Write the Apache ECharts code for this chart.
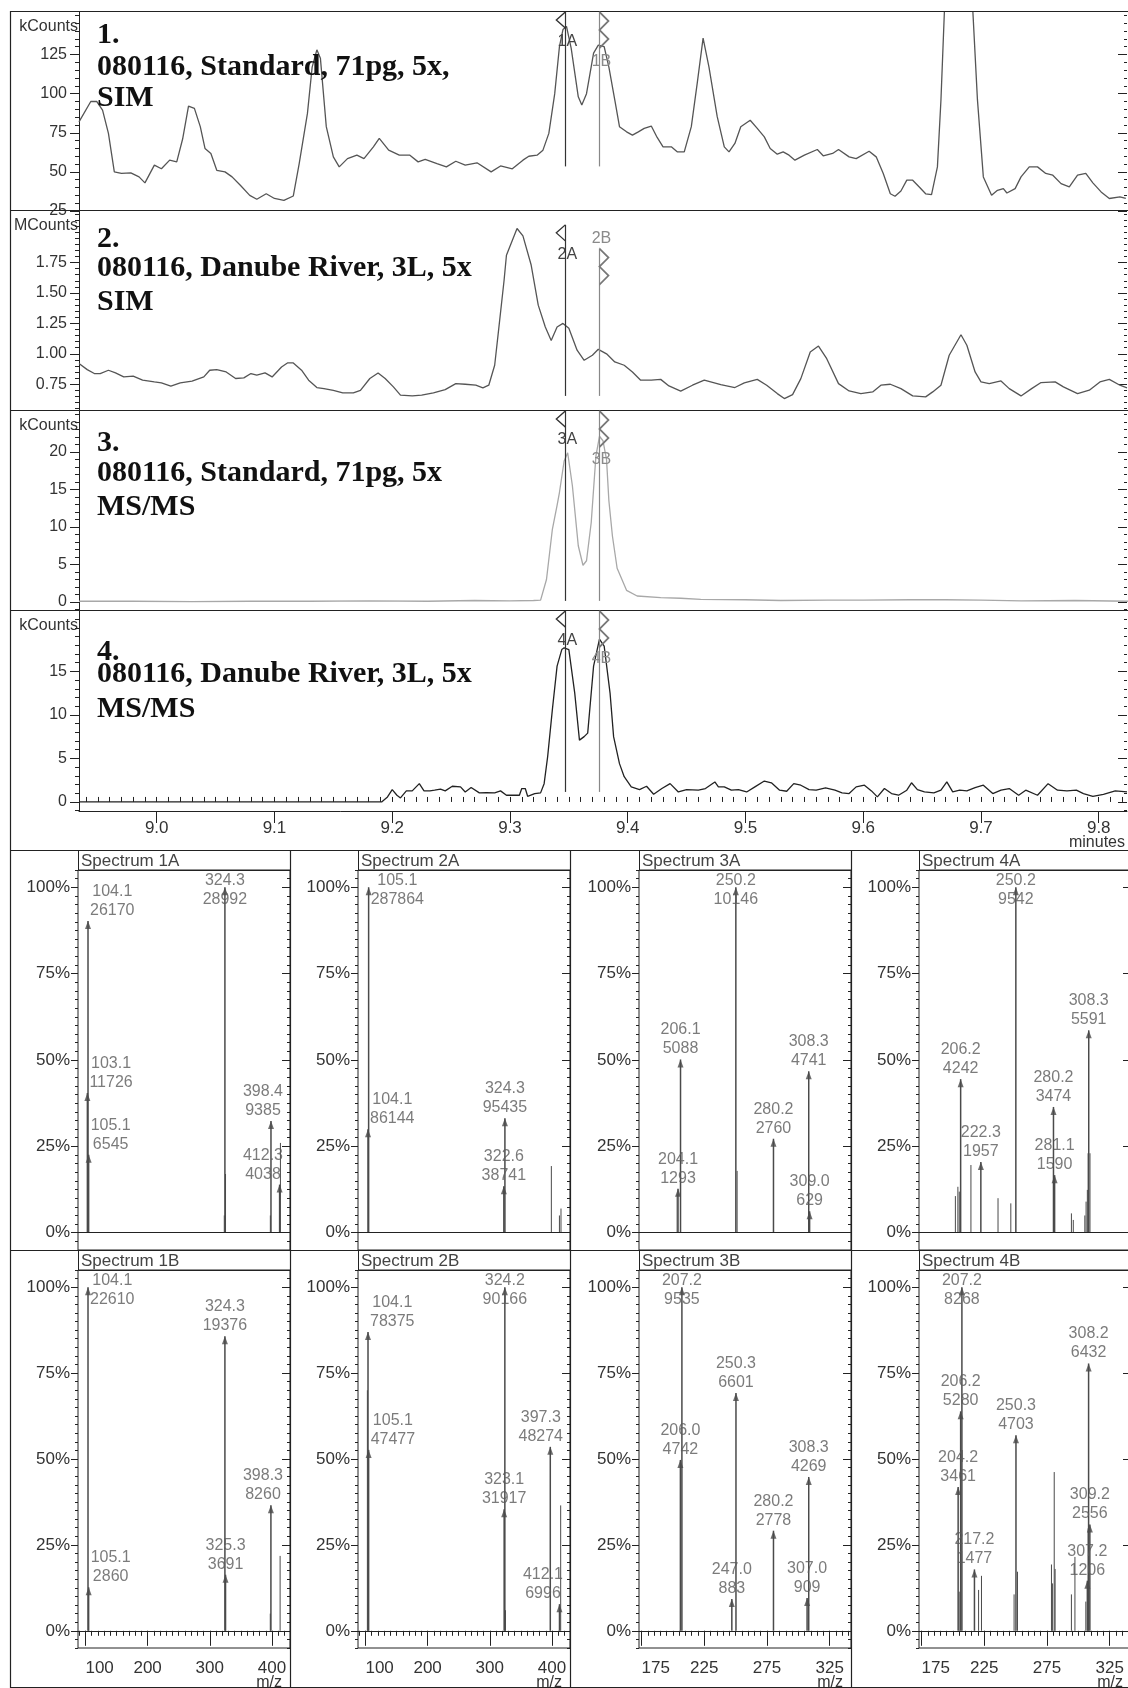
<!DOCTYPE html>
<html>
<head>
<meta charset="utf-8">
<title>Chromatograms and MS/MS spectra</title>
<script src="https://cdn.jsdelivr.net/npm/echarts@6/dist/echarts.min.js"></script>
<style>
  html, body { margin: 0; padding: 0; background: #fff; }
  #chart-container { width: 1128px; height: 1688px; }
</style>
</head>
<body>
<div id="chart-container"></div>
<script>
var dom = document.getElementById("chart-container");
var myChart = echarts.init(dom, null, { renderer: "canvas" });

var SANS = "'Liberation Sans', Arial, Helvetica, sans-serif";
var SERIF = "'Liberation Serif', 'Times New Roman', serif";

// ---- chromatograms: [retention time (min), intensity] ----
var trace1 = [[8.934,82],[8.944,95],[8.949,95],[8.954,89.5],[8.959,74.6],[8.964,50],[8.970,49],[8.978,49.4],[8.985,46.8],[8.990,43],[8.998,54.3],[9.004,52],[9.011,57.5],[9.017,56.4],[9.022,71],[9.027,92],[9.032,90.6],[9.037,78.9],[9.041,65],[9.046,61.8],[9.051,51],[9.058,50],[9.064,46.8],[9.071,41.5],[9.079,35],[9.085,32.5],[9.093,36],[9.100,33],[9.108,31.8],[9.116,34.6],[9.121,55.3],[9.128,87.4],[9.132,117],[9.136,128],[9.139,122.7],[9.144,78.9],[9.150,59.6],[9.155,53.2],[9.162,58.5],[9.170,60.7],[9.176,58.5],[9.184,66],[9.189,71.4],[9.197,63.9],[9.206,60.7],[9.215,60.7],[9.222,56.4],[9.228,58],[9.238,55.3],[9.246,53.2],[9.254,56.8],[9.262,54.3],[9.272,55.8],[9.284,50],[9.292,53.8],[9.302,52],[9.311,57.5],[9.316,60],[9.323,60.7],[9.328,63.9],[9.333,74.6],[9.338,100],[9.342,130],[9.345,141],[9.348,143],[9.352,129],[9.358,98],[9.361,92.7],[9.365,100],[9.371,125.9],[9.375,131],[9.380,130],[9.384,117],[9.389,96],[9.393,78.9],[9.399,75.6],[9.404,73.5],[9.409,75.6],[9.414,77.8],[9.420,79.3],[9.425,72],[9.430,66],[9.437,66],[9.442,62.8],[9.448,62.8],[9.454,78.9],[9.459,106.6],[9.464,135.5],[9.469,117],[9.476,85.3],[9.482,66],[9.486,62.8],[9.491,68.2],[9.496,78.9],[9.504,83],[9.510,77.8],[9.516,72.4],[9.521,65],[9.527,61.3],[9.532,62.8],[9.537,60.7],[9.542,57.5],[9.550,60.7],[9.561,64.3],[9.566,60.3],[9.574,61.8],[9.579,64.3],[9.588,59.6],[9.594,58.5],[9.605,63.2],[9.611,59.6],[9.617,49],[9.623,36],[9.627,34.4],[9.632,37.8],[9.637,44.7],[9.642,44.7],[9.648,40],[9.653,36],[9.658,35.5],[9.663,53.2],[9.666,96],[9.669,154],[9.680,185],[9.693,154],[9.697,96],[9.702,46.8],[9.709,35],[9.714,38.2],[9.719,39.3],[9.722,36.5],[9.729,39.3],[9.734,46.8],[9.741,53.2],[9.748,53.2],[9.755,49],[9.761,47.9],[9.768,42.5],[9.775,40.4],[9.782,47.9],[9.789,49],[9.795,43],[9.802,37.2],[9.809,33],[9.818,34],[9.823,33]];

var trace2 = [[8.934,0.92],[8.941,0.87],[8.947,0.838],[8.952,0.838],[8.959,0.865],[8.965,0.843],[8.972,0.81],[8.980,0.816],[8.988,0.783],[8.998,0.769],[9.004,0.761],[9.012,0.734],[9.020,0.761],[9.030,0.775],[9.040,0.81],[9.045,0.865],[9.051,0.87],[9.059,0.851],[9.067,0.797],[9.074,0.802],[9.080,0.838],[9.085,0.824],[9.092,0.843],[9.098,0.81],[9.106,0.892],[9.111,0.925],[9.116,0.925],[9.123,0.865],[9.129,0.783],[9.136,0.723],[9.142,0.714],[9.150,0.70],[9.158,0.679],[9.167,0.679],[9.173,0.70],[9.181,0.797],[9.188,0.843],[9.194,0.797],[9.201,0.728],[9.207,0.66],[9.217,0.654],[9.225,0.66],[9.235,0.679],[9.245,0.706],[9.254,0.755],[9.262,0.75],[9.271,0.742],[9.277,0.72],[9.282,0.742],[9.287,0.906],[9.290,1.166],[9.295,1.605],[9.297,1.81],[9.306,2.03],[9.311,1.97],[9.318,1.73],[9.324,1.40],[9.330,1.22],[9.335,1.11],[9.340,1.22],[9.345,1.25],[9.350,1.21],[9.357,1.03],[9.363,0.947],[9.370,0.988],[9.375,1.037],[9.382,1.0],[9.389,0.933],[9.397,0.906],[9.404,0.851],[9.411,0.783],[9.420,0.783],[9.428,0.79],[9.435,0.736],[9.445,0.693],[9.455,0.742],[9.465,0.783],[9.479,0.747],[9.491,0.723],[9.499,0.761],[9.510,0.79],[9.518,0.742],[9.527,0.673],[9.533,0.632],[9.540,0.665],[9.547,0.796],[9.555,1.015],[9.562,1.064],[9.569,0.96],[9.579,0.755],[9.588,0.695],[9.598,0.673],[9.608,0.687],[9.615,0.742],[9.623,0.75],[9.632,0.714],[9.642,0.654],[9.653,0.646],[9.659,0.687],[9.666,0.742],[9.673,0.988],[9.683,1.157],[9.688,1.07],[9.695,0.851],[9.700,0.769],[9.707,0.755],[9.717,0.777],[9.724,0.714],[9.734,0.654],[9.743,0.714],[9.751,0.764],[9.763,0.769],[9.770,0.728],[9.782,0.673],[9.792,0.701],[9.801,0.769],[9.809,0.79],[9.818,0.742],[9.824,0.72]];

var trace3 = [[8.934,0.1],[8.98,0.1],[9.03,0.05],[9.08,0.1],[9.13,0.1],[9.18,0.15],[9.23,0.1],[9.27,0.2],[9.30,0.15],[9.32,0.2],[9.326,0.25],[9.331,3.0],[9.336,9.7],[9.340,12.9],[9.342,14.6],[9.346,18.8],[9.349,19.9],[9.353,15.5],[9.358,7.5],[9.362,4.9],[9.365,5.5],[9.369,10.6],[9.373,19.5],[9.376,22.1],[9.379,21.5],[9.382,19],[9.384,13.5],[9.387,8.8],[9.391,4.5],[9.399,1.56],[9.408,0.8],[9.428,0.58],[9.445,0.5],[9.462,0.36],[9.50,0.3],[9.53,0.2],[9.57,0.25],[9.60,0.25],[9.64,0.3],[9.67,0.3],[9.70,0.25],[9.734,0.15],[9.78,0.2],[9.825,0.1]];

var trace4 = [[8.934,0],[9.191,0],[9.196,0.58],[9.200,1.42],[9.204,0.77],[9.207,0.46],[9.212,1.27],[9.217,1.27],[9.223,2.1],[9.227,1.27],[9.232,1.27],[9.236,1.35],[9.241,1.46],[9.245,1.27],[9.251,1.8],[9.258,1.73],[9.262,1.15],[9.267,1.65],[9.274,1.04],[9.280,1.08],[9.287,1.04],[9.292,1.27],[9.297,0.77],[9.308,0.77],[9.310,1.54],[9.313,1.54],[9.315,0.65],[9.321,0.96],[9.326,1.04],[9.329,2.1],[9.332,5.2],[9.336,10.6],[9.340,15.6],[9.344,17.5],[9.346,17.7],[9.350,17.5],[9.355,12.5],[9.359,7.1],[9.363,7.5],[9.366,7.9],[9.371,15.6],[9.376,18.7],[9.380,17.9],[9.385,12.5],[9.388,7.5],[9.393,4.4],[9.397,2.9],[9.403,1.73],[9.410,1.42],[9.416,1.8],[9.422,0.88],[9.429,1.54],[9.436,2.1],[9.443,1.15],[9.450,1.42],[9.460,1.35],[9.466,1.54],[9.474,2.3],[9.477,1.73],[9.482,1.73],[9.488,1.35],[9.494,1.42],[9.501,1.15],[9.508,1.73],[9.516,2.4],[9.522,2.2],[9.529,1.35],[9.535,1.23],[9.541,2.1],[9.547,1.92],[9.554,1.42],[9.560,1.35],[9.568,1.62],[9.576,1.35],[9.582,1.04],[9.588,0.96],[9.594,1.73],[9.601,1.92],[9.607,1.27],[9.612,0.58],[9.618,1.54],[9.624,0.96],[9.630,0.77],[9.637,1.35],[9.641,2.2],[9.646,1.42],[9.652,1.15],[9.660,1.04],[9.666,1.35],[9.671,2.3],[9.676,1.15],[9.682,1.35],[9.688,1.27],[9.695,1.65],[9.702,1.92],[9.710,0.96],[9.717,1.35],[9.724,1.54],[9.732,0.77],[9.738,1.35],[9.748,0.77],[9.757,2.1],[9.765,1.35],[9.773,1.27],[9.781,1.35],[9.787,0.96],[9.795,0.65],[9.804,0.88],[9.814,1.27],[9.824,1.15]];

// spectrum scan times (A and B cursors)
var scanTimes = [9.347, 9.376];

var panelTitles = [
  ["1.", "080116, Standard, 71pg, 5x,", "SIM"],
  ["2.", "080116, Danube River, 3L, 5x", "SIM"],
  ["3.", "080116, Standard, 71pg, 5x", "MS/MS"],
  ["4.", "080116, Danube River, 3L, 5x", "MS/MS"]
];
var panelUnits = ["kCounts", "MCounts", "kCounts", "kCounts"];
var panelTicks = [[25, 50, 75, 100, 125], [0.75, 1.0, 1.25, 1.5, 1.75], [0, 5, 10, 15, 20], [0, 5, 10, 15]];
var timeTicks = [9.0, 9.1, 9.2, 9.3, 9.4, 9.5, 9.6, 9.7, 9.8];

// ---- spectra: labelled peaks (m/z, counts) and small unlabelled peaks (m/z, %) ----
var s1A_mz = [104.1, 103.1, 105.1, 324.3, 398.4, 412.3];
var s1A_counts = [26170, 11726, 6545, 28992, 9385, 4038];
var s1A_minorMz = [323.3, 325.3, 397.4, 413.6];
var s1A_minorPct = [5, 17, 5, 26];

var s2A_mz = [105.1, 104.1, 324.3, 322.6];
var s2A_counts = [287864, 86144, 95435, 38741];
var s2A_minorMz = [399.0, 412.0, 414.5];
var s2A_minorPct = [19.3, 5, 7];

var s3A_mz = [250.2, 206.1, 308.3, 280.2, 204.1, 309.0];
var s3A_counts = [10146, 5088, 4741, 2760, 1293, 629];
var s3A_minorMz = [251.2, 203.4];
var s3A_minorPct = [17.9, 11];

var s4A_mz = [250.2, 308.3, 206.2, 280.2, 222.3, 281.1];
var s4A_counts = [9542, 5591, 4242, 3474, 1957, 1590];
var s4A_minorMz = [202.0, 204.0, 205.1, 214.4, 236.0, 246.2, 294.5, 296.0, 305.2, 306.2, 307.2, 307.8, 309.3];
var s4A_minorPct = [10.6, 13.3, 11.9, 19.6, 10, 8.5, 5.6, 3.7, 5, 9, 12.4, 23, 23];

var s1B_mz = [104.1, 324.3, 398.3, 325.3, 105.1];
var s1B_counts = [22610, 19376, 8260, 3691, 2860];
var s1B_minorMz = [397.3, 413.1];
var s1B_minorPct = [5, 21.8];

var s2B_mz = [324.2, 104.1, 397.3, 105.1, 323.1, 412.1];
var s2B_counts = [90166, 78375, 48274, 47477, 31917, 6996];
var s2B_minorMz = [103.1, 325.2, 414.0];
var s2B_minorPct = [70, 6, 36.5];

var s3B_mz = [207.2, 250.3, 206.0, 308.3, 280.2, 307.0, 247.0];
var s3B_counts = [9535, 6601, 4742, 4269, 2778, 909, 883];
var s3B_minorMz = [];
var s3B_minorPct = [];

var s4B_mz = [207.2, 308.2, 206.2, 250.3, 204.2, 309.2, 217.2, 307.2];
var s4B_counts = [8268, 6432, 5280, 4703, 3461, 2556, 1477, 1206];
var s4B_minorMz = [205.0, 220.5, 222.8, 248.8, 251.5, 278.6, 279.5, 280.8, 281.5, 294.5, 297.3, 306.0, 307.8];
var s4B_minorPct = [11.4, 11.9, 16, 10.6, 17.2, 19.3, 13.8, 46.2, 18, 10.6, 21.5, 8.5, 29.8];

var spectrumNames = ["1A", "2A", "3A", "4A", "1B", "2B", "3B", "4B"];
var spectrumData = [
  [s1A_mz, s1A_counts, s1A_minorMz, s1A_minorPct],
  [s2A_mz, s2A_counts, s2A_minorMz, s2A_minorPct],
  [s3A_mz, s3A_counts, s3A_minorMz, s3A_minorPct],
  [s4A_mz, s4A_counts, s4A_minorMz, s4A_minorPct],
  [s1B_mz, s1B_counts, s1B_minorMz, s1B_minorPct],
  [s2B_mz, s2B_counts, s2B_minorMz, s2B_minorPct],
  [s3B_mz, s3B_counts, s3B_minorMz, s3B_minorPct],
  [s4B_mz, s4B_counts, s4B_minorMz, s4B_minorPct]
];
var mzTicksWide = [100, 200, 300, 400];
var mzTicksNarrow = [175, 225, 275, 325];

// ---- layout ----
function steps(a, b, s) {
  var out = [];
  for (var i = 0; a + i * s <= b + 1e-9; i++) out.push(+(a + i * s).toFixed(4));
  return out;
}

var chromLayout = [
  { top: 12, height: 199, min: 25, max: 152.2, minor: steps(25, 150, 5), digits: 0, color: "#555",
    textY: [35, 67, 98], low: [53.5, 53.5], markTop: [152.2, 152.2], labelDy: [30, 50] },
  { top: 211, height: 200, min: 0.53, max: 2.174, minor: steps(0.55, 2.15, 0.05), digits: 2, color: "#555",
    textY: [239, 268, 302], low: [0.654, 0.654], markTop: [2.06, 1.865], labelDy: [30, -10] },
  { top: 411, height: 200, min: -1.2, max: 25.47, minor: steps(-1, 25, 1), digits: 0, color: "#a8a8a8",
    textY: [443, 473, 507], low: [0.15, 0.15], markTop: [25.47, 25.47], labelDy: [29, 49] },
  { top: 611, height: 200, min: -1.04, max: 21.93, minor: steps(-1, 21, 1), digits: 0, color: "#222",
    textY: [652, 674, 709], low: [1.15, 1.15], markTop: [21.93, 21.93], labelDy: [30, 48] }
];
var traces = [trace1, trace2, trace3, trace4];
var T_MIN = 8.934, T_MAX = 9.824;

var grids = [], xAxes = [], yAxes = [], series = [], graphics = [];

var chevA = "path://M10,0 L0,10 L10,20";
var chevB = "path://M0,0 L10,10 L0,20 L10,30 L0,40";

chromLayout.forEach(function (p, i) {
  grids.push({ left: 79, top: p.top, width: 1048, height: p.height, show: false, outerBoundsMode: "none" });
  var gi = grids.length - 1;
  var isLast = i === 3;
  var xi = xAxes.length;
  xAxes.push({
    type: "value", gridIndex: gi, min: T_MIN, max: T_MAX, show: isLast,
    axisLine: { show: true, onZero: false, lineStyle: { color: "#222", width: 1 } },
    axisTick: { show: true, customValues: timeTicks, length: 12, lineStyle: { color: "#222" } },
    axisLabel: { show: true, customValues: timeTicks, margin: 9, fontSize: 17, color: "#333", fontFamily: SANS,
      formatter: function (v) { return v.toFixed(1); } },
    splitLine: { show: false }
  });
  if (isLast) {
    xAxes.push({
      type: "value", gridIndex: gi, min: T_MIN, max: T_MAX,
      axisLine: { show: false }, axisLabel: { show: false }, splitLine: { show: false },
      axisTick: { show: true, customValues: steps(8.94, 9.82, 0.01), length: 5, lineStyle: { color: "#222" } }
    });
    graphics.push({
      type: "text", x: 1125, y: 843, z: 10,
      style: { text: "minutes", fontSize: 16, fontFamily: SANS, fill: "#333", align: "right", verticalAlign: "middle" }
    });
  }
  var yi = yAxes.length;
  yAxes.push({
    type: "value", gridIndex: gi, position: "left", min: p.min, max: p.max,
    axisLine: { show: true, onZero: false, lineStyle: { color: "#222" } },
    axisTick: { show: true, customValues: panelTicks[i], length: 9, lineStyle: { color: "#222" } },
    axisLabel: { show: true, customValues: panelTicks[i], margin: 12, fontSize: 16, color: "#333", fontFamily: SANS,
      formatter: (function (d) { return function (v) { return v.toFixed(d); }; })(p.digits) },
    splitLine: { show: false },
    name: panelUnits[i], nameLocation: "end", nameGap: -15,
    nameTextStyle: { align: "right", verticalAlign: "middle", padding: [0, 1, 0, 0], fontSize: 16, color: "#333", fontFamily: SANS }
  });
  yAxes.push({
    type: "value", gridIndex: gi, position: "left", min: p.min, max: p.max,
    axisLine: { show: false }, axisLabel: { show: false }, splitLine: { show: false },
    axisTick: { show: true, customValues: p.minor, length: 4, lineStyle: { color: "#222" } }
  });
  yAxes.push({
    type: "value", gridIndex: gi, position: "right", min: p.min, max: p.max,
    axisLine: { show: false }, axisLabel: { show: false }, splitLine: { show: false },
    axisTick: { show: true, inside: true, customValues: panelTicks[i], length: 9, lineStyle: { color: "#222" } }
  });
  yAxes.push({
    type: "value", gridIndex: gi, position: "right", min: p.min, max: p.max,
    axisLine: { show: false }, axisLabel: { show: false }, splitLine: { show: false },
    axisTick: { show: true, inside: true, customValues: p.minor, length: 3, lineStyle: { color: "#222" } }
  });

  var n = String(i + 1);
  series.push({
    type: "line", xAxisIndex: xi, yAxisIndex: yi, data: traces[i],
    showSymbol: false, symbol: "none", clip: true, z: 3,
    lineStyle: { color: p.color, width: 1.3 },
    markLine: {
      silent: true, symbol: ["none", "none"], label: { show: false }, animation: false,
      data: [
        [{ coord: [scanTimes[0], p.low[0]], lineStyle: { color: "#333", width: 1.2, type: "solid" } }, { coord: [scanTimes[0], p.markTop[0]] }],
        [{ coord: [scanTimes[1], p.low[1]], lineStyle: { color: "#888", width: 1.2, type: "solid" } }, { coord: [scanTimes[1], p.markTop[1]] }]
      ]
    },
    markPoint: {
      silent: true, animation: false,
      data: [
        { coord: [scanTimes[0], p.markTop[0]], symbol: chevA, symbolSize: [9, 16], symbolOffset: [-4.5, 8],
          itemStyle: { color: "rgba(0,0,0,0)", borderColor: "#333", borderWidth: 1.2 }, label: { show: false } },
        { coord: [scanTimes[1], p.markTop[1]], symbol: chevB, symbolSize: [9, 36], symbolOffset: [4.5, 18],
          itemStyle: { color: "rgba(0,0,0,0)", borderColor: "#777", borderWidth: 1.2 }, label: { show: false } },
        { coord: [scanTimes[0], p.markTop[0]], symbol: "circle", symbolSize: 0,
          label: { show: true, formatter: n + "A", offset: [2, p.labelDy[0]], fontSize: 16, color: "#444", fontFamily: SANS } },
        { coord: [scanTimes[1], p.markTop[1]], symbol: "circle", symbolSize: 0,
          label: { show: true, formatter: n + "B", offset: [2, p.labelDy[1]], fontSize: 16, color: "#8a8a8a", fontFamily: SANS } }
      ]
    }
  });

  // panel titles
  panelTitles[i].forEach(function (txt, k) {
    graphics.push({
      type: "text", x: 97, y: p.textY[k], z: 10,
      style: { text: txt, fontSize: 30, fontWeight: "bold", fontFamily: SERIF, fill: "#111", verticalAlign: "middle" }
    });
  });
});

// ---- spectra panels ----
var colLefts = [78, 358, 639, 919];
var SPW = 212;
spectrumNames.forEach(function (name, s) {
  var row = s < 4 ? 0 : 1, col = s % 4;
  var left = colLefts[col];
  var rowTop = row === 0 ? 850 : 1250;
  var top = rowTop + 20;
  var height = row === 0 ? 380 : 378;
  var wide = col < 2;
  var xMin = wide ? 88 : 173, xMax = wide ? 429 : 342;
  var majors = wide ? mzTicksWide : mzTicksNarrow;
  var minors = wide ? steps(90, 420, 10) : steps(175, 340, 5);

  grids.push({ left: left, top: top, width: SPW, height: height, show: true, borderColor: "#222", borderWidth: 1,
    backgroundColor: "rgba(0,0,0,0)", outerBoundsMode: "none" });
  var gi = grids.length - 1;
  var xi = xAxes.length;
  xAxes.push({
    type: "value", gridIndex: gi, min: xMin, max: xMax, position: "bottom",
    axisLine: { show: false },
    axisTick: { show: row === 1, customValues: majors, length: 15, lineStyle: { color: "#222" } },
    axisLabel: { show: row === 1, customValues: majors, margin: 12, fontSize: 17, color: "#333", fontFamily: SANS, alignMinLabel: "left" },
    splitLine: { show: false }
  });
  if (row === 1) {
    xAxes.push({
      type: "value", gridIndex: gi, min: xMin, max: xMax, position: "bottom",
      axisLine: { show: false }, axisLabel: { show: false }, splitLine: { show: false },
      axisTick: { show: true, customValues: minors, length: 5, lineStyle: { color: "#222" } }
    });
    graphics.push({
      type: "text", x: Math.min(left + SPW - 8, 1124), y: 1683, z: 10,
      style: { text: "m/z", fontSize: 16, fontFamily: SANS, fill: "#333", align: "right", verticalAlign: "middle" }
    });
  }
  var yi = yAxes.length;
  var pctMajor = [0, 25, 50, 75, 100];
  var pctMinor = steps(-5, 105, 2.5);
  yAxes.push({
    type: "value", gridIndex: gi, position: "left", min: -5, max: 105,
    axisLine: { show: false },
    axisTick: { show: true, customValues: pctMajor, length: 7, lineStyle: { color: "#222" } },
    axisLabel: { show: true, customValues: pctMajor, margin: 8, fontSize: 17, color: "#333", fontFamily: SANS, formatter: "{value}%" },
    splitLine: { show: false }
  });
  yAxes.push({
    type: "value", gridIndex: gi, position: "left", min: -5, max: 105,
    axisLine: { show: false }, axisLabel: { show: false }, splitLine: { show: false },
    axisTick: { show: true, customValues: pctMinor, length: 3, lineStyle: { color: "#222" } }
  });
  yAxes.push({
    type: "value", gridIndex: gi, position: "right", min: -5, max: 105,
    axisLine: { show: false }, axisLabel: { show: false }, splitLine: { show: false },
    axisTick: { show: true, inside: true, customValues: pctMajor, length: 8, lineStyle: { color: "#222" } }
  });
  yAxes.push({
    type: "value", gridIndex: gi, position: "right", min: -5, max: 105,
    axisLine: { show: false }, axisLabel: { show: false }, splitLine: { show: false },
    axisTick: { show: true, inside: true, customValues: pctMinor, length: 3, lineStyle: { color: "#222" } }
  });

  var d = spectrumData[s];
  var mz = d[0], counts = d[1], minorMz = d[2], minorPct = d[3];
  var base = Math.max.apply(null, counts);
  var sticks = [], heads = [];
  mz.forEach(function (m, k) {
    var pct = counts[k] / base * 100;
    sticks.push([m, pct, 1]);
    heads.push([m, pct, counts[k]]);
  });
  minorMz.forEach(function (m, k) { sticks.push([m, minorPct[k], 0]); });

  series.push({
    type: "custom", coordinateSystem: "cartesian2d", xAxisIndex: xi, yAxisIndex: yi,
    data: sticks, encode: { x: 0, y: 1 }, clip: true, silent: true, z: 3,
    renderItem: function (params, api) {
      var p0 = api.coord([api.value(0), 0]);
      var p1 = api.coord([api.value(0), api.value(1)]);
      return { type: "line", shape: { x1: p0[0], y1: p0[1], x2: p1[0], y2: p1[1] },
        style: { stroke: "#4a4a4a", lineWidth: api.value(2) ? 1.5 : 1 } };
    }
  });

  var gL = left, gR = left + SPW, gT = top;
  series.push({
    type: "scatter", xAxisIndex: xi, yAxisIndex: yi, data: heads, z: 4,
    symbol: "triangle", symbolSize: [6, 8], symbolOffset: [0, "50%"],
    itemStyle: { color: "#4a4a4a" },
    label: {
      show: true, position: "top", distance: 1, fontSize: 16, lineHeight: 19, color: "#5a5a5a", fontFamily: SANS,
      formatter: function (p) { return p.value[0].toFixed(1) + "\n" + p.value[2]; }
    },
    labelLayout: function (params) {
      var r = params.labelRect;
      var cx = r.x + r.width / 2, dx = 0, dy = 0;
      if (r.x < gL + 2) dx = cx + 2 - r.x;
      else if (r.x + r.width > gR - 7) dx = gR - 7 - (r.x + r.width);
      if (r.y < gT + 1) dy = gT + 1 - r.y;
      return { dx: dx, dy: dy };
    },
    markLine: {
      silent: true, symbol: ["none", "none"], label: { show: false }, animation: false,
      lineStyle: { color: "#222", width: 1, type: "solid" },
      data: [{ yAxis: 0 }]
    }
  });

  // title strip
  graphics.push({
    type: "rect", z: 5, shape: { x: left + 0.5, y: rowTop + 0.5, width: SPW, height: 20 },
    style: { fill: "none", stroke: "#222", lineWidth: 1 }
  });
  graphics.push({
    type: "text", z: 6, x: left + 3, y: rowTop + 11,
    style: { text: "Spectrum " + name, fontSize: 17, fontFamily: SANS, fill: "#444", verticalAlign: "middle" }
  });
});

// frame and separators
[11.5, 210.5, 410.5, 610.5, 850.5, 1250.5, 1687.5].forEach(function (y) {
  graphics.push({ type: "line", z: 5, shape: { x1: 10, y1: y, x2: 1128, y2: y }, style: { stroke: "#222", lineWidth: 1.2 } });
});
graphics.push({ type: "line", z: 5, shape: { x1: 10.5, y1: 11, x2: 10.5, y2: 1688 }, style: { stroke: "#222", lineWidth: 1.2 } });
[290.5, 570.5, 851.5].forEach(function (x) {
  graphics.push({ type: "line", z: 5, shape: { x1: x, y1: 850, x2: x, y2: 1688 }, style: { stroke: "#222", lineWidth: 1.2 } });
});

var option = {
  animation: false,
  backgroundColor: "#fff",
  textStyle: { fontFamily: SANS },
  grid: grids,
  xAxis: xAxes,
  yAxis: yAxes,
  series: series,
  graphic: { elements: graphics }
};

if (option && typeof option === "object") {
  myChart.setOption(option);
}

window.addEventListener("resize", myChart.resize);
</script>
</body>
</html>
